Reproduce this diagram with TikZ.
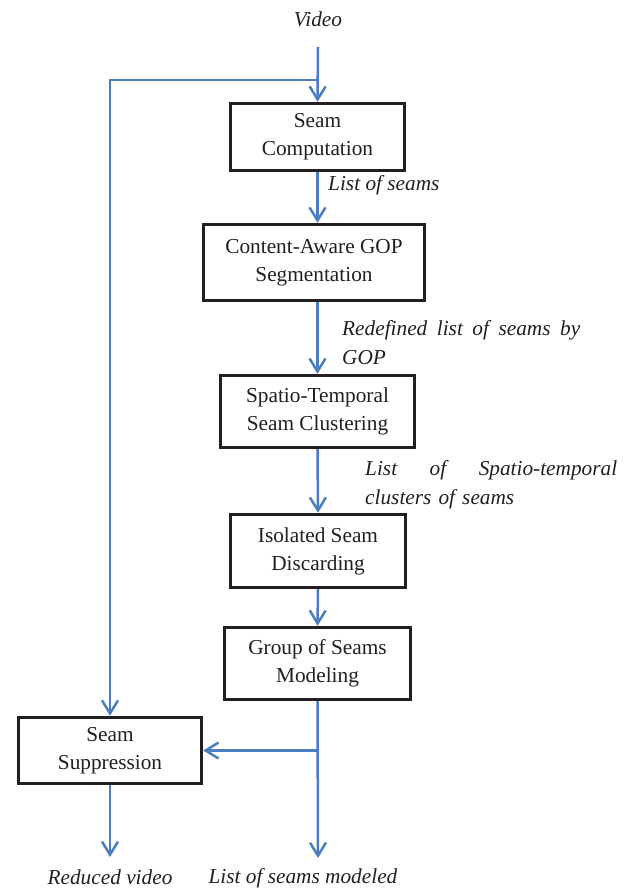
\documentclass[tikz,border=0pt]{standalone}
\usepackage{fontspec}
\setmainfont{Liberation Serif}
\usetikzlibrary{arrows.meta}
\definecolor{flowblue}{HTML}{4A7EBF}
\definecolor{boxline}{HTML}{231F20}

\begin{document}
\begin{tikzpicture}[x=1pt,y=-1pt,
  stage/.style={draw=boxline, line width=3.4pt, align=center, inner sep=0pt,
    fill=white, text=boxline, font=\fontsize{21.3}{28}\selectfont},
  flow/.style={draw=flowblue, line width=2.5pt,
    -{Straight Barb[length=13pt,width=16pt]}},
  note/.style={inner sep=0pt, text=boxline,
    font=\fontsize{21.3}{29}\selectfont\itshape}
]
\useasboundingbox (0,0) rectangle (631,888);

% processing stages
\node[stage, minimum width=174pt, minimum height=67pt] (comp) at (317.5,137)
  {Seam\\Computation};
\node[stage, minimum width=221pt, minimum height=76pt] (gop) at (314,262.5)
  {Content-Aware GOP\\Segmentation};
\node[stage, minimum width=194pt, minimum height=72pt] (clus) at (317.5,411.5)
  {Spatio-Temporal\\Seam Clustering};
\node[stage, minimum width=175pt, minimum height=73pt] (disc) at (318,551)
  {Isolated Seam\\Discarding};
\node[stage, minimum width=186pt, minimum height=72pt] (model) at (317.5,663.5)
  {Group of Seams\\Modeling};
\node[stage, minimum width=183pt, minimum height=66pt] (supp) at (110,750.5)
  {Seam\\Suppression};

% inputs and outputs
\node[note] (video) at (318,19) {Video};
\node[note] (reduced) at (110,877) {Reduced video};
\node[note] (modeled) at (303,878) {List of seams modeled};
\coordinate (vin) at (318,47);
\coordinate (split) at (318,80);
\coordinate (redend) at (110,857);
\coordinate (modend) at (318,858);

% edge labels
\node[note, anchor=west] (l1) at (328,185) {List of seams};
\node[note, anchor=base west, text width=238pt, align=left] (l2) at (342,335)
  {\hbox to 238pt{Redefined\hfill list\hfill of\hfill seams\hfill by}\\GOP};
\node[note, anchor=base west, text width=252pt, align=left] (l3) at (365,475)
  {\hbox to 252pt{List\hfill of\hfill Spatio-temporal}\\clusters of seams};

% main flow
\draw[flow] (vin) -- (comp.north);
\draw[flow] (comp.south) -- (comp.south |- gop.north);
\draw[flow] (comp.south |- gop.south) -- (comp.south |- clus.north);
\draw[flow] (clus.south) -- (disc.north);
\draw[flow] (disc.south) -- (model.north);
\draw[flow] (model.south) -- (modend);

% bypass of the video to the suppression stage
\draw[flow] (split) -| (supp.north);
\coordinate (join) at (model.south |- supp.east);
\draw[flow] (join) -- (supp.east);
\draw[flow] (supp.south) -- (redend);
\end{tikzpicture}
\end{document}
